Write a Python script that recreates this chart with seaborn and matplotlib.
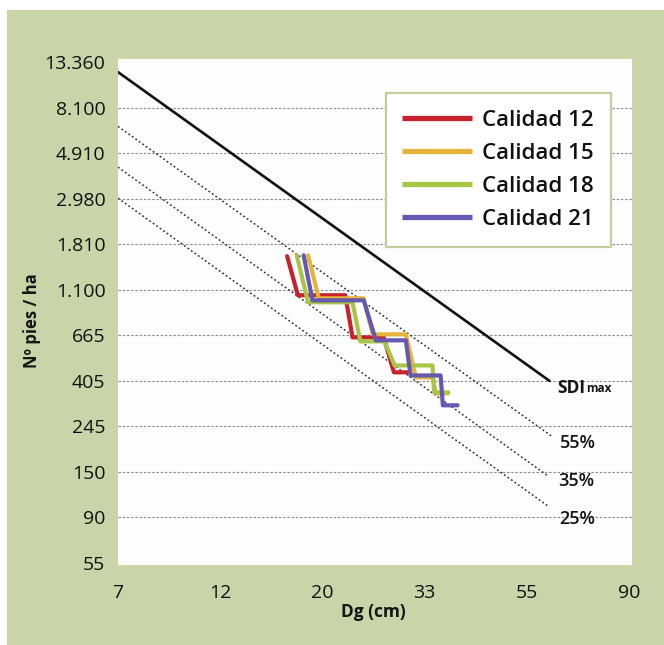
import numpy as np
import pandas as pd
import matplotlib
matplotlib.use("Agg")
import matplotlib.pyplot as plt
from matplotlib.patches import Rectangle
from matplotlib.lines import Line2D
import seaborn as sns

# Stand trajectories: quadratic mean diameter Dg (cm) and stems per hectare
CAL12_DG = [16.3, 17.2, 21.8, 22.6, 26.4, 27.8, 29.8]
CAL12_N = [1590, 1036, 1036, 653, 653, 445, 445]
CAL15_DG = [18.1, 19.1, 23.9, 25.0, 29.5, 31.0, 33.7, 34.3, 36.4]
CAL15_N = [1606, 1002, 1002, 675, 675, 421, 421, 353, 353]
CAL18_DG = [17.1, 18.1, 22.6, 23.5, 26.5, 27.9, 33.7, 34.0, 36.5]
CAL18_N = [1606, 959, 959, 625, 625, 480, 480, 357, 357]
CAL21_DG = [17.7, 18.5, 23.9, 25.4, 29.5, 30.2, 35.1, 35.5, 38.2]
CAL21_N = [1606, 980, 980, 632, 632, 430, 430, 310, 310]

SERIES_NAMES = ["Calidad 12", "Calidad 15", "Calidad 18", "Calidad 21"]
SERIES_COLORS = ["#c8202c", "#e6b43a", "#a8c646", "#6657b0"]

# Stand density index reference lines (end points)
SDI_LABELS = ["SDI", "55%", "35%", "25%"]
SDI_DG = [[7, 60.5], [7, 61.3], [7, 60.0], [7, 60.3]]
SDI_N = [[11970, 405], [6600, 220], [4220, 143], [3003, 102]]

# Axis tick labels (log-spaced positions)
X_TICK_LABELS = ["7", "12", "20", "33", "55", "90"]
Y_TICK_LABELS = ["55", "90", "150", "245", "405", "665", "1.100",
                 "1.810", "2.980", "4.910", "8.100", "13.360"]

GREEN = "#c9d5a8"

sns.set_theme(style="white")
plt.rcParams["font.family"] = ["Open Sans", "DejaVu Sans"]

fig = plt.figure(figsize=(6.64, 6.45), dpi=100)
fig.patch.set_facecolor("white")
fig.add_artist(Rectangle((7 / 664, 0), 1, 1 - 10 / 645, transform=fig.transFigure,
                         facecolor=GREEN, edgecolor="none", zorder=-5))

ax = fig.add_axes([118 / 664, 1 - 565 / 645, (632 - 118) / 664, (565 - 59) / 645])
ax.set_facecolor("#fdfdfd")
ax.set_xscale("log")
ax.set_yscale("log")

xt = np.geomspace(7, 90, len(X_TICK_LABELS))
yt = np.geomspace(55, 13360, len(Y_TICK_LABELS))
ax.set_xlim(7, 90 * 1.015)
ax.set_ylim(55 / 1.022, 13360 * 1.034)
ax.set_xticks(xt, X_TICK_LABELS)
ax.set_yticks(yt, Y_TICK_LABELS)
ax.minorticks_off()

for s in ax.spines.values():
    s.set_visible(False)

ax.grid(axis="y", color="#8a8a8a", linestyle=(0, (2.2, 1.6)), linewidth=0.8)
ax.grid(axis="x", visible=False)
gl = ax.yaxis.get_gridlines()
gl[0].set_visible(False)
gl[-1].set_visible(False)
ax.set_axisbelow(True)

ax.tick_params(axis="both", which="major", direction="out", length=5, width=1.5,
               color="white", labelsize=14, labelcolor="#111111")
ax.tick_params(axis="x", pad=9)
ax.tick_params(axis="y", pad=4)

# Reference density lines
styles = [dict(color="#111111", linewidth=1.9, linestyle="-")] + \
         [dict(color="#333333", linewidth=1.1, linestyle=(0, (1.2, 1.6)))] * 3
for dg, n, st in zip(SDI_DG, SDI_N, styles):
    sns.lineplot(x=dg, y=n, ax=ax, sort=False, estimator=None, legend=False, **st)

offsets = [(8, -7), (8, -6), (10, -5), (10, -12)]
for lab, dg, n, off in zip(SDI_LABELS, SDI_DG, SDI_N, offsets):
    t = ax.annotate(lab, xy=(dg[1], n[1]), xytext=off, textcoords="offset pixels",
                    ha="left", va="center", fontsize=12.5 if lab == "SDI" else 13,
                    fontweight="bold" if lab == "SDI" else "semibold", color="#151515")
    if lab == "SDI":
        ax.annotate("max", xy=(1, 0.12), xycoords=t, ha="left", va="bottom",
                    fontsize=8.5, fontweight="bold", color="#151515")

# Trajectories by site quality
frames = []
for name, dg, n in zip(SERIES_NAMES,
                       [CAL12_DG, CAL15_DG, CAL18_DG, CAL21_DG],
                       [CAL12_N, CAL15_N, CAL18_N, CAL21_N]):
    frames.append(pd.DataFrame({"Dg": dg, "N": n, "Calidad": name,
                                "orden": range(len(dg))}))
df = pd.concat(frames, ignore_index=True)
sns.lineplot(data=df, x="Dg", y="N", hue="Calidad", units="Calidad", estimator=None,
             sort=False, palette=dict(zip(SERIES_NAMES, SERIES_COLORS)),
             linewidth=3.0, legend=False, ax=ax)

handles = [Line2D([], [], color=c, linewidth=3.8, solid_capstyle="butt")
           for c in SERIES_COLORS]
leg = ax.legend(handles, SERIES_NAMES, loc="upper left", bbox_to_anchor=(0.521, 0.933),
                borderaxespad=0, frameon=True, fancybox=False, framealpha=1,
                edgecolor="#c3cd9c", facecolor="white", fontsize=16,
                handlelength=3.15, handletextpad=0.45, labelspacing=0.55,
                borderpad=0.75)
leg.get_frame().set_linewidth(1.6)
for txt in leg.get_texts():
    txt.set_color("#111111")
    txt.set_fontweight("semibold")

ax.set_xlabel("Dg (cm)", fontsize=12.5, fontweight="bold", color="#151515", va="center")
ax.xaxis.set_label_coords((373 - 118) / 514, (565 - 612) / 506)
ax.set_ylabel("Nº pies / ha", fontsize=12, fontweight="bold", color="#151515", va="center")
ax.yaxis.set_label_coords((32 - 118) / 514, (565 - 321) / 506)

fig.savefig("out.png", dpi=100, facecolor=fig.get_facecolor())
